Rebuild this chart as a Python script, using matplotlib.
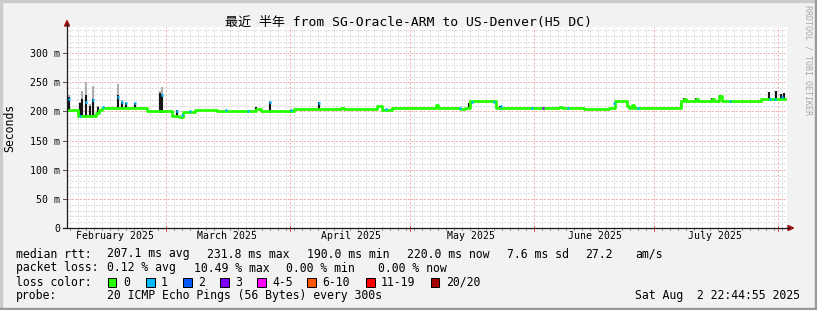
import numpy as np
import matplotlib
matplotlib.use('Agg')
import matplotlib.pyplot as plt
from matplotlib.patches import Rectangle, Polygon
from matplotlib.lines import Line2D

W, H = 817, 310
MONO = 'DejaVu Sans Mono'

# time axis: days after 2025-01-01
x_start, x_end = 34.25, 214.25
data_end = 214.0

# median rtt [ms], step levels starting at med_day
med_day = [34.25, 37.0, 39.5, 40.5, 41.5, 42.25, 43.0, 54.25, 60.5, 62.25, 63.25,
           66.25, 71.75, 75.5, 81.5, 82.75, 91.0, 102.75, 103.5, 111.75, 113.0,
           115.5, 123.5, 126.5, 127.0, 132.5, 133.75, 135.0, 141.5, 142.75, 157.25,
           158.0, 163.5, 169.75, 171.25, 174.25, 174.75, 175.5, 176.0, 187.75, 188.5,
           189.0, 191.5, 192.0, 195.5, 196.0, 197.25, 198.0, 207.75]
med_val = [203, 192, 193, 192, 197, 203, 206, 200, 192, 190, 199,
           202, 201, 200, 204, 200, 204, 206, 204, 209, 202.5,
           205.5, 206.5, 211, 206.5, 204, 206.5, 218, 206, 205.5, 208,
           205.5, 204, 205.5, 218, 209, 205.5, 211, 205.5, 218.5, 222,
           218.5, 222, 218.5, 222, 218.5, 227, 218.5, 221]

# samples with packet loss (index into loss_colors)
loss_day = [34.75, 37.5, 39.0, 40.75, 43.25, 47.0, 48.0, 49.0, 51.25, 58.0, 61.75,
            63.0, 65.0, 74.0, 79.5, 85.0, 90.25, 97.25, 114.0, 132.5, 135.5, 141.0,
            142.75, 150.5, 153.25, 159.5, 171.0, 177.0, 200.0, 210.0, 211.25, 213.0]
loss_val = [222, 192, 216, 220, 207, 225, 217, 214, 214, 228, 200,
            194, 200, 202, 200, 217, 202, 214, 204, 206, 216, 216,
            210, 205.5, 205.5, 205.5, 214, 205.5, 218.5, 222, 221, 224]
loss_lvl = [1, 1, 1, 1, 1, 1, 1, 1, 1, 1, 1,
            1, 1, 1, 1, 1, 1, 1, 1, 1, 1, 1,
            1, 1, 3, 1, 1, 1, 1, 1, 1, 1]

# smoke (ping spread): dark core top and light top [ms]
smoke_day = [34.75, 37.5, 38.0, 39.0, 40.0, 40.75, 42.0, 47.0, 48.0, 49.0, 51.25,
             57.5, 58.0, 61.75, 81.5, 85.0, 90.0, 97.25, 134.75, 142.5, 171.25,
             187.75, 188.5, 191.5, 195.5, 197.5, 209.75, 211.5, 212.75, 213.5]
smoke_dark = [225, 214, 222, 228, 210, 222, 208, 228, 217, 214, 214,
              231, 228, 202, 207, 217, 203, 216, 214, 210, 214,
              212, 223, 223, 223, 229, 233, 235, 230, 232]
smoke_light = [228, 216, 236, 250, 212, 243, 210, 248, 220, 216, 215,
               236, 242, 203, 207, 218, 203, 216, 214, 210, 214,
               212, 223, 223, 223, 229, 233, 235, 230, 232]

loss_colors = ['#26ff00', '#00b8ff', '#0059ff', '#7e00ff',
               '#ff00ff', '#ff5500', '#ff0000', '#a10000']
loss_labels = ['0', '1', '2', '3', '4-5', '6-10', '11-19', '20/20']

month_start = [31, 59, 90, 120, 151, 181, 212]
month_label_day = [46.25, 74.25, 105.25, 135.25, 166.25, 196.25]
month_labels = ['February 2025', 'March 2025', 'April 2025',
                'May 2025', 'June 2025', 'July 2025']
y_major = [0, 50, 100, 150, 200, 250, 300]
y_labels = ['0', '50 m', '100 m', '150 m', '200 m', '250 m', '300 m']


def fx(x):
    return x / W


def fy(y):
    return 1 - y / H


fig = plt.figure(figsize=(W / 100, H / 100), dpi=100, facecolor='#f2f2f2')
ax = fig.add_axes([fx(67), fy(228), 720 / W, 201 / H])
ax.set_facecolor('white')
ax.set_xlim(x_start, x_end)
ax.set_ylim(0, 345)
for s in ax.spines.values():
    s.set_visible(False)

# grid
minor_col = '#d6d6d6'
major_col = '#f4a4a4'
dash = (0, (2, 2))
for v in range(10, 345, 10):
    if v % 50:
        ax.axhline(v, color=minor_col, lw=0.72, ls=dash, zorder=0)
for d in np.arange(35, x_end, 2):
    if d not in month_start:
        ax.axvline(d, color=minor_col, lw=0.72, ls=dash, zorder=0)
for v in y_major[1:]:
    ax.axhline(v, color=major_col, lw=0.72, ls=dash, zorder=0.5)
for d in month_start:
    if x_start < d < x_end:
        ax.axvline(d, color=major_col, lw=0.72, ls=dash, zorder=0.5)

# smoke
md = np.array(med_day)
mv = np.array(med_val)
sd = np.array(smoke_day)
base = mv[np.searchsorted(md, sd, side='right') - 1]
ax.vlines(sd, np.minimum(base, smoke_light) - 2, smoke_light, color='#b0b0b0', lw=1.5, zorder=2)
ax.vlines(sd, np.minimum(base, smoke_dark) - 2, smoke_dark, color='#151515', lw=1.5, zorder=2.1)

# median line
ax.step(list(med_day) + [data_end], list(med_val) + [med_val[-1]], where='post',
        color=loss_colors[0], lw=2.0, zorder=3)
for d, v, l in zip(loss_day, loss_val, loss_lvl):
    ax.hlines(v, d - 0.2, d + 0.3, color=loss_colors[l], lw=2.0, zorder=4)

# ticks / labels
ax.set_yticks(y_major)
ax.set_yticklabels(y_labels, family=MONO, fontsize=7.1)
ax.set_xticks(month_label_day)
ax.set_xticklabels(month_labels, family=MONO, fontsize=7.1)
ax.tick_params(axis='y', length=0, pad=5)
ax.tick_params(axis='x', length=0, pad=2.5)

# axes lines, ticks and arrows in pixel coordinates
def fline(xs, ys, **kw):
    fig.add_artist(Line2D([fx(x) for x in xs], [fy(y) for y in ys], **kw))


axis_col = '#1a1a1a'
for v in y_major:
    yp = 228 - v * 201 / 345
    fline([63, 67], [yp, yp], color='#555555', lw=0.72)
for d in np.arange(35, x_end, 2):
    xp = 67 + (d - x_start) * 4
    fline([xp, xp], [228, 230], color='#999999', lw=0.72)
for d in month_start:
    if x_start < d < x_end:
        xp = 67 + (d - x_start) * 4
        fline([xp, xp], [226, 231], color='#e05050', lw=0.72)
fline([67, 67], [228, 24], color=axis_col, lw=0.9)
fline([63, 789], [228, 228], color=axis_col, lw=0.9)
arrow_col = '#9c1010'
fig.add_artist(Polygon([(fx(64.5), fy(26)), (fx(69.5), fy(26)), (fx(67), fy(20.5))],
                       closed=True, color=arrow_col, transform=fig.transFigure))
fig.add_artist(Polygon([(fx(788), fy(225.5)), (fx(788), fy(230.5)), (fx(793.5), fy(228))],
                       closed=True, color=arrow_col, transform=fig.transFigure))

# title and side texts
fig.text(0.5, fy(25.5), '最近 半年 from SG-Oracle-ARM to US-Denver(H5 DC)',
         family=[MONO, 'Noto Sans CJK SC'], fontsize=9.4, ha='center', va='baseline')
fig.text(fx(10), fy(127.5), 'Seconds', family=MONO, fontsize=8.3,
         rotation=90, ha='center', va='center')
fig.text(fx(808), fy(60), 'RRDTOOL / TOBI OETIKER', family=MONO, fontsize=6,
         rotation=270, ha='center', va='center', color='#a8a8a8')

# legend
fs = 8.3
rows = [
    (257.5, [(16, 'median rtt:'), (107, '207.1 ms avg'), (207, '231.8 ms max'),
             (307, '190.0 ms min'), (407, '220.0 ms now'), (507, '7.6 ms sd'),
             (585, '27.2'), (635, 'am/s')]),
    (271.5, [(16, 'packet loss:'), (107, '0.12 % avg'), (194, '10.49 % max'),
             (286, '0.00 % min'), (378, '0.00 % now')]),
    (285.5, [(16, 'loss color:')]),
    (299.5, [(16, 'probe:'), (107, '20 ICMP Echo Pings (56 Bytes) every 300s')]),
]
for yb, items in rows:
    for xp, s in items:
        fig.text(fx(xp), fy(yb), s, family=MONO, fontsize=fs, ha='left', va='baseline')
fig.text(fx(800), fy(299.5), 'Sat Aug  2 22:44:55 2025', family=MONO, fontsize=fs,
         ha='right', va='baseline')

box_x = [108, 146, 183, 220, 257, 307, 366, 431]
for bx, c, lab in zip(box_x, loss_colors, loss_labels):
    fig.add_artist(Rectangle((fx(bx), fy(287)), 8.5 / W, 9 / H, facecolor=c,
                             edgecolor='black', lw=0.72, transform=fig.transFigure))
    fig.text(fx(bx + 15), fy(285.5), lab, family=MONO, fontsize=fs, ha='left', va='baseline')

# 3d frame
fig.add_artist(Rectangle((0, 1 - 2 / H), 1, 2 / H, color='#cbcbcb', transform=fig.transFigure))
fig.add_artist(Rectangle((0, 0), 2 / W, 1, color='#cbcbcb', transform=fig.transFigure))
fig.add_artist(Rectangle((0, 0), 1, 2 / H, color='#999999', transform=fig.transFigure))
fig.add_artist(Rectangle((1 - 2 / W, 0), 2 / W, 1, color='#999999', transform=fig.transFigure))

fig.savefig('out.png', dpi=100, facecolor=fig.get_facecolor())
